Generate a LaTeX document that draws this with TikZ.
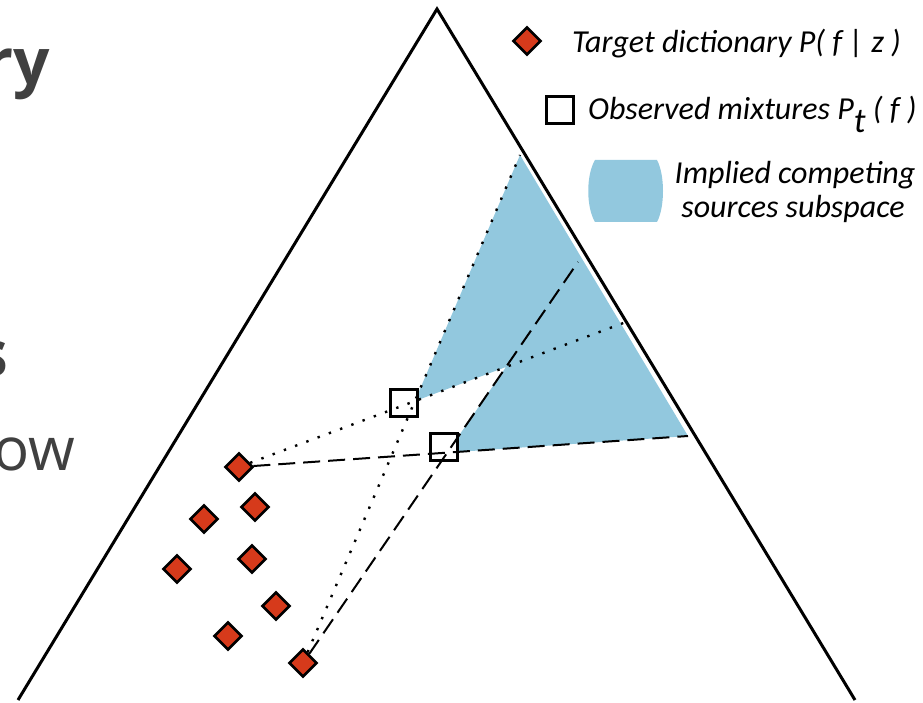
\documentclass[tikz,border=0pt]{standalone}
\usepackage{fontspec}
\setmainfont{Carlito}
\newfontfamily\slidefont{Open Sans}
\usetikzlibrary{shapes.geometric}
\definecolor{dictred}{HTML}{D63A1B}
\definecolor{subspace}{HTML}{92C8DE}
\definecolor{slidegray}{HTML}{404040}

\begin{document}
\begin{tikzpicture}[x=1pt,y=-1pt,
  atom/.style={diamond, aspect=1, draw=black, line width=2.6pt, fill=dictred,
               inner sep=0pt, minimum size=28pt},
  mix/.style={rectangle, draw=black, line width=2.8pt, fill=white,
              inner sep=0pt, minimum size=27pt},
  hullline/.style={line width=2.4pt, dash pattern=on 2.4pt off 9.6pt},
  spanline/.style={line width=2pt, dash pattern=on 17pt off 8pt},
  legendtext/.style={font=\fontsize{32}{30}\selectfont\itshape, inner sep=0pt},
  fragbold/.style={font=\slidefont\bfseries\fontsize{64}{64}\selectfont,
                   text=slidegray, inner sep=0pt, anchor=base east},
  fragreg/.style={font=\slidefont\fontsize{60}{60}\selectfont,
                  text=slidegray, inner sep=0pt, anchor=base east}]
\useasboundingbox (0,0) rectangle (923,703);

% slide text running in from the left
\node[fragbold] (fr1) at (50,85) {ry};
\node[fragbold] (fr2) at (9,376) {s};
\node[fragreg]  (fr3) at (75,470) {ow};

% simplex
\coordinate (top) at (437,9);
\coordinate (bl) at (18,700);
\coordinate (br) at (855,700);
\draw[line width=3pt, line join=miter] (bl) -- (top) -- (br);

% dictionary element positions
\coordinate (a1) at (239,467);
\coordinate (a2) at (255,507);
\coordinate (a3) at (204,519);
\coordinate (a4) at (252,559);
\coordinate (a5) at (177,569);
\coordinate (a6) at (276,606);
\coordinate (a7) at (228,636);
\coordinate (a8) at (303,663);

% end points of the extended hull lines
\coordinate (eA) at (520,155);
\coordinate (eB) at (626,322);
\coordinate (eC) at (688,436);
\coordinate (eD) at (578,262);

% competing sources subspace
\fill[subspace]
  (intersection of a8--eA and a1--eB) -- (eA) -- (eC)
  -- (intersection of a1--eC and a8--eD)
  -- (intersection of a8--eD and a1--eB) -- cycle;

% observed mixtures
\node[mix] (s1) at (404,403) {};
\node[mix] (s2) at (444,447) {};

% dictionary elements
\foreach \i in {1,...,8} {\node[atom] (d\i) at (a\i) {};}

% lines through the mixtures
\draw[hullline] (d8) -- (eA);
\draw[hullline] (d1) -- (eB);
\draw[spanline] (d1) -- (eC);
\draw[spanline] (d8) -- (eD);

% legend
\node[atom] (l1) at (527,41) {};
\node[legendtext, anchor=base west] (t1) at (572,53) {Target dictionary P( \textit{f} | \textit{z} )};
\node[mix] (l2) at (560,110) {};
\node[legendtext, anchor=base west] (t2) at (588,120)
  {Observed mixtures P\raisebox{-13pt}{\fontsize{35}{35}\selectfont t} ( \textit{f} )};
\fill[subspace] (595,160) -- (657,160) .. controls (665,175) and (665,207) .. (657,222)
  -- (595,222) .. controls (586,207) and (586,175) .. (595,160) -- cycle;
\node[legendtext, anchor=base] (t3) at (795,184) {Implied competing};
\node[legendtext, anchor=base] (t4) at (793,218) {sources subspace};
\end{tikzpicture}
\end{document}
